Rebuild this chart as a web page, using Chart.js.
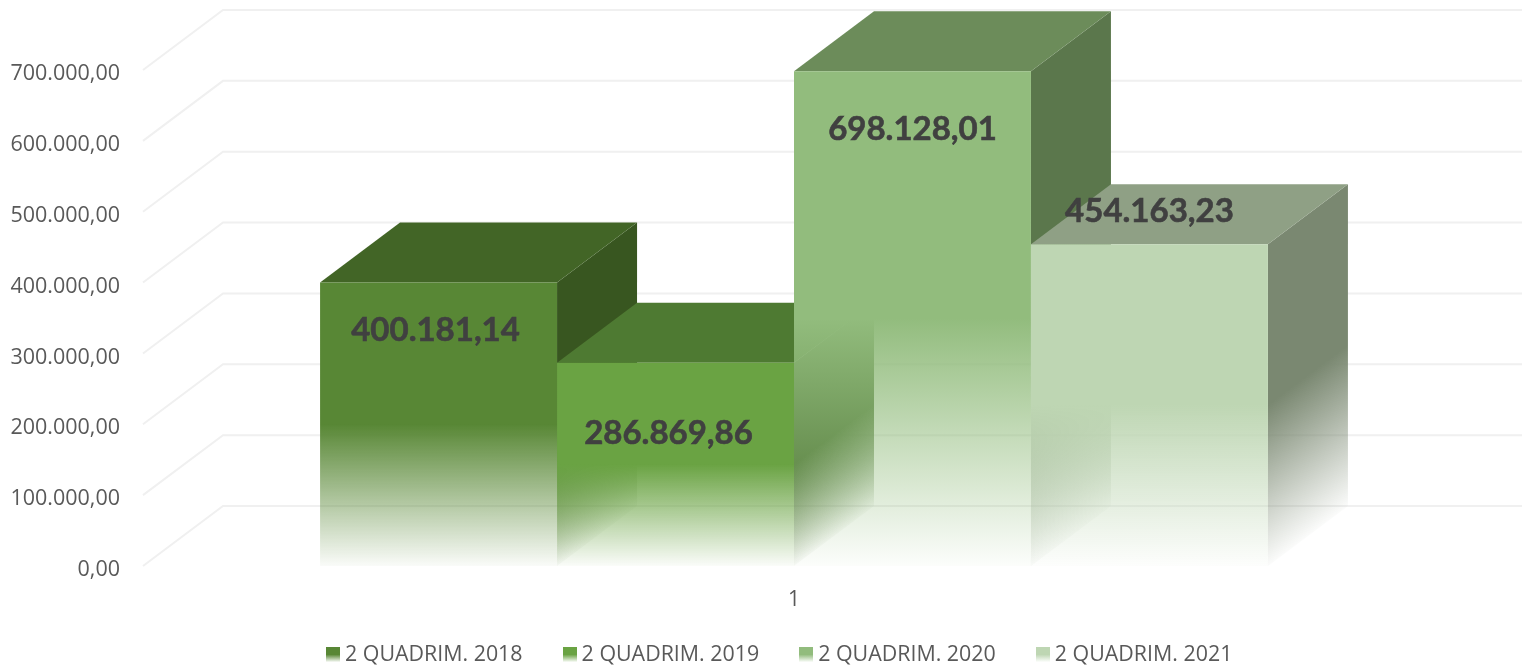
<!DOCTYPE html>
<html>
<head>
<meta charset="utf-8">
<style>
    html, body { margin: 0; padding: 0; background: #fff; }
    #wrap { position: relative; width: 1522px; height: 666px; overflow: hidden; }
    #legend { position: absolute; left: 326px; top: 640px; display: flex; font: 21.4px "Open Sans", sans-serif; color: #595959; }
    #legend div { width: 236.6px; height: 26px; line-height: 26px; white-space: nowrap; }
    #legend span { display: inline-block; width: 14px; height: 15px; margin-right: 5px; vertical-align: -1px; }
</style>
<script src="https://cdn.jsdelivr.net/npm/chart.js@4"></script>
</head>
<body>
<div id="wrap">
    <canvas id="myChart" width="1522" height="666"></canvas>
    <div id="legend"></div>
</div>
<script>
const categorias = ['1'];
const series = ['2 QUADRIM. 2018', '2 QUADRIM. 2019', '2 QUADRIM. 2020', '2 QUADRIM. 2021'];
const valores2018 = [400181.14];
const valores2019 = [286869.86];
const valores2020 = [698128.01];
const valores2021 = [454163.23];

const frente = ['88,135,53', '106,163,67', '146,188,125', '190,214,179'];
const topo = ['66,101,38', '78,122,50', '108,140,90', '143,160,133'];
const lado = ['56,86,32', '72,110,46', '91,119,76', '122,136,113'];

// profundidade do efeito 3D
const DX = 80;
const DY = 60;
// ajuste dos rotulos em relacao ao topo da barra
const ajusteRotulo = [[-3, 48], [-7, 71], [0, 58], [0, -33]];

const formato = v => v.toLocaleString('pt-BR', { minimumFractionDigits: 2, maximumFractionDigits: 2 });

function fade(ctx, topY, baseY, rgb) {
    const g = ctx.createLinearGradient(0, topY, 0, baseY);
    g.addColorStop(0, `rgba(${rgb},1)`);
    g.addColorStop(0.5, `rgba(${rgb},1)`);
    g.addColorStop(1, `rgba(${rgb},0.03)`);
    return g;
}

function corFrente(i) {
    return function(c) {
        const chart = c.chart;
        if (!chart.chartArea) return `rgb(${frente[i]})`;
        const y = chart.scales.y;
        return fade(chart.ctx, y.getPixelForValue(c.raw), y.getPixelForValue(0), frente[i]);
    };
}

const barras3d = {
    id: 'barras3d',
    beforeDatasetsDraw(chart) {
        const ctx = chart.ctx;
        const y = chart.scales.y;
        const { left, right } = chart.chartArea;

        // grade: parede lateral e parede do fundo
        ctx.save();
        ctx.strokeStyle = '#f0f0f0';
        ctx.lineWidth = 2;
        y.ticks.forEach(t => {
            const py = y.getPixelForValue(t.value);
            ctx.beginPath();
            ctx.moveTo(left, py);
            ctx.lineTo(left + DX, py - DY);
            ctx.lineTo(right + DX, py - DY);
            ctx.stroke();
        });
        ctx.restore();

        // da esquerda para a direita, cada barra cobre a anterior
        chart.data.datasets.forEach((ds, i) => {
            const meta = chart.getDatasetMeta(i);
            const bar = meta.data[0];
            const x1 = bar.x + bar.width / 2;
            const x0 = bar.x - bar.width / 2;

            ctx.save();
            ctx.transform(1, -DY / DX, 0, 1, x1, 0);
            ctx.fillStyle = fade(ctx, bar.y, bar.base, lado[i]);
            ctx.fillRect(0, bar.y, DX, bar.base - bar.y);
            ctx.restore();

            ctx.fillStyle = `rgb(${topo[i]})`;
            ctx.beginPath();
            ctx.moveTo(x0, bar.y);
            ctx.lineTo(x0 + DX, bar.y - DY);
            ctx.lineTo(x1 + DX, bar.y - DY);
            ctx.lineTo(x1, bar.y);
            ctx.closePath();
            ctx.fill();

            meta.controller.draw();
        });
        return false;
    },
    afterDraw(chart) {
        const ctx = chart.ctx;
        ctx.save();
        ctx.font = 'bold 33px Lato';
        ctx.fillStyle = '#404040';
        ctx.strokeStyle = '#404040';
        ctx.lineWidth = 0.6;
        ctx.textAlign = 'center';
        ctx.textBaseline = 'middle';
        chart.data.datasets.forEach((ds, i) => {
            const bar = chart.getDatasetMeta(i).data[0];
            const txt = formato(ds.data[0]);
            const tx = bar.x + ajusteRotulo[i][0];
            const ty = bar.y + ajusteRotulo[i][1];
            ctx.fillText(txt, tx, ty);
            ctx.strokeText(txt, tx, ty);
        });
        ctx.restore();
    }
};

const todosValores = [valores2018, valores2019, valores2020, valores2021];

const ctx = document.getElementById('myChart').getContext('2d');
const myChart = new Chart(ctx, {
    type: 'bar',
    data: {
        labels: categorias,
        datasets: series.map((nome, i) => ({
            label: nome,
            data: todosValores[i],
            backgroundColor: corFrente(i),
            borderWidth: 0,
            categoryPercentage: 0.728,
            barPercentage: 1
        }))
    },
    options: {
        responsive: false,
        animation: false,
        layout: { padding: { top: 70, right: 77, left: 0, bottom: 0 } },
        plugins: {
            legend: { display: false },
            tooltip: { enabled: false }
        },
        scales: {
            x: {
                grid: { display: false, drawTicks: false },
                border: { display: false },
                ticks: { color: '#595959', font: { family: 'Open Sans', size: 21 }, padding: 21 },
                afterFit(s) { s.height = 100; }
            },
            y: {
                min: 0,
                max: 700000,
                grid: { display: false, drawTicks: false },
                border: { display: false },
                ticks: {
                    stepSize: 100000,
                    color: '#595959',
                    font: { family: 'Open Sans', size: 21.5 },
                    padding: 23,
                    labelOffset: 4,
                    callback: v => formato(v)
                },
                afterFit(s) { s.width = 143; }
            }
        }
    },
    plugins: [barras3d]
});

// legenda em HTML
const legenda = document.getElementById('legend');
series.forEach((nome, i) => {
    const item = document.createElement('div');
    const caixa = document.createElement('span');
    caixa.style.background = `linear-gradient(rgb(${frente[i]}) 50%, rgba(${frente[i]},0.03))`;
    item.appendChild(caixa);
    item.appendChild(document.createTextNode(nome));
    legenda.appendChild(item);
});
</script>
</body>
</html>
